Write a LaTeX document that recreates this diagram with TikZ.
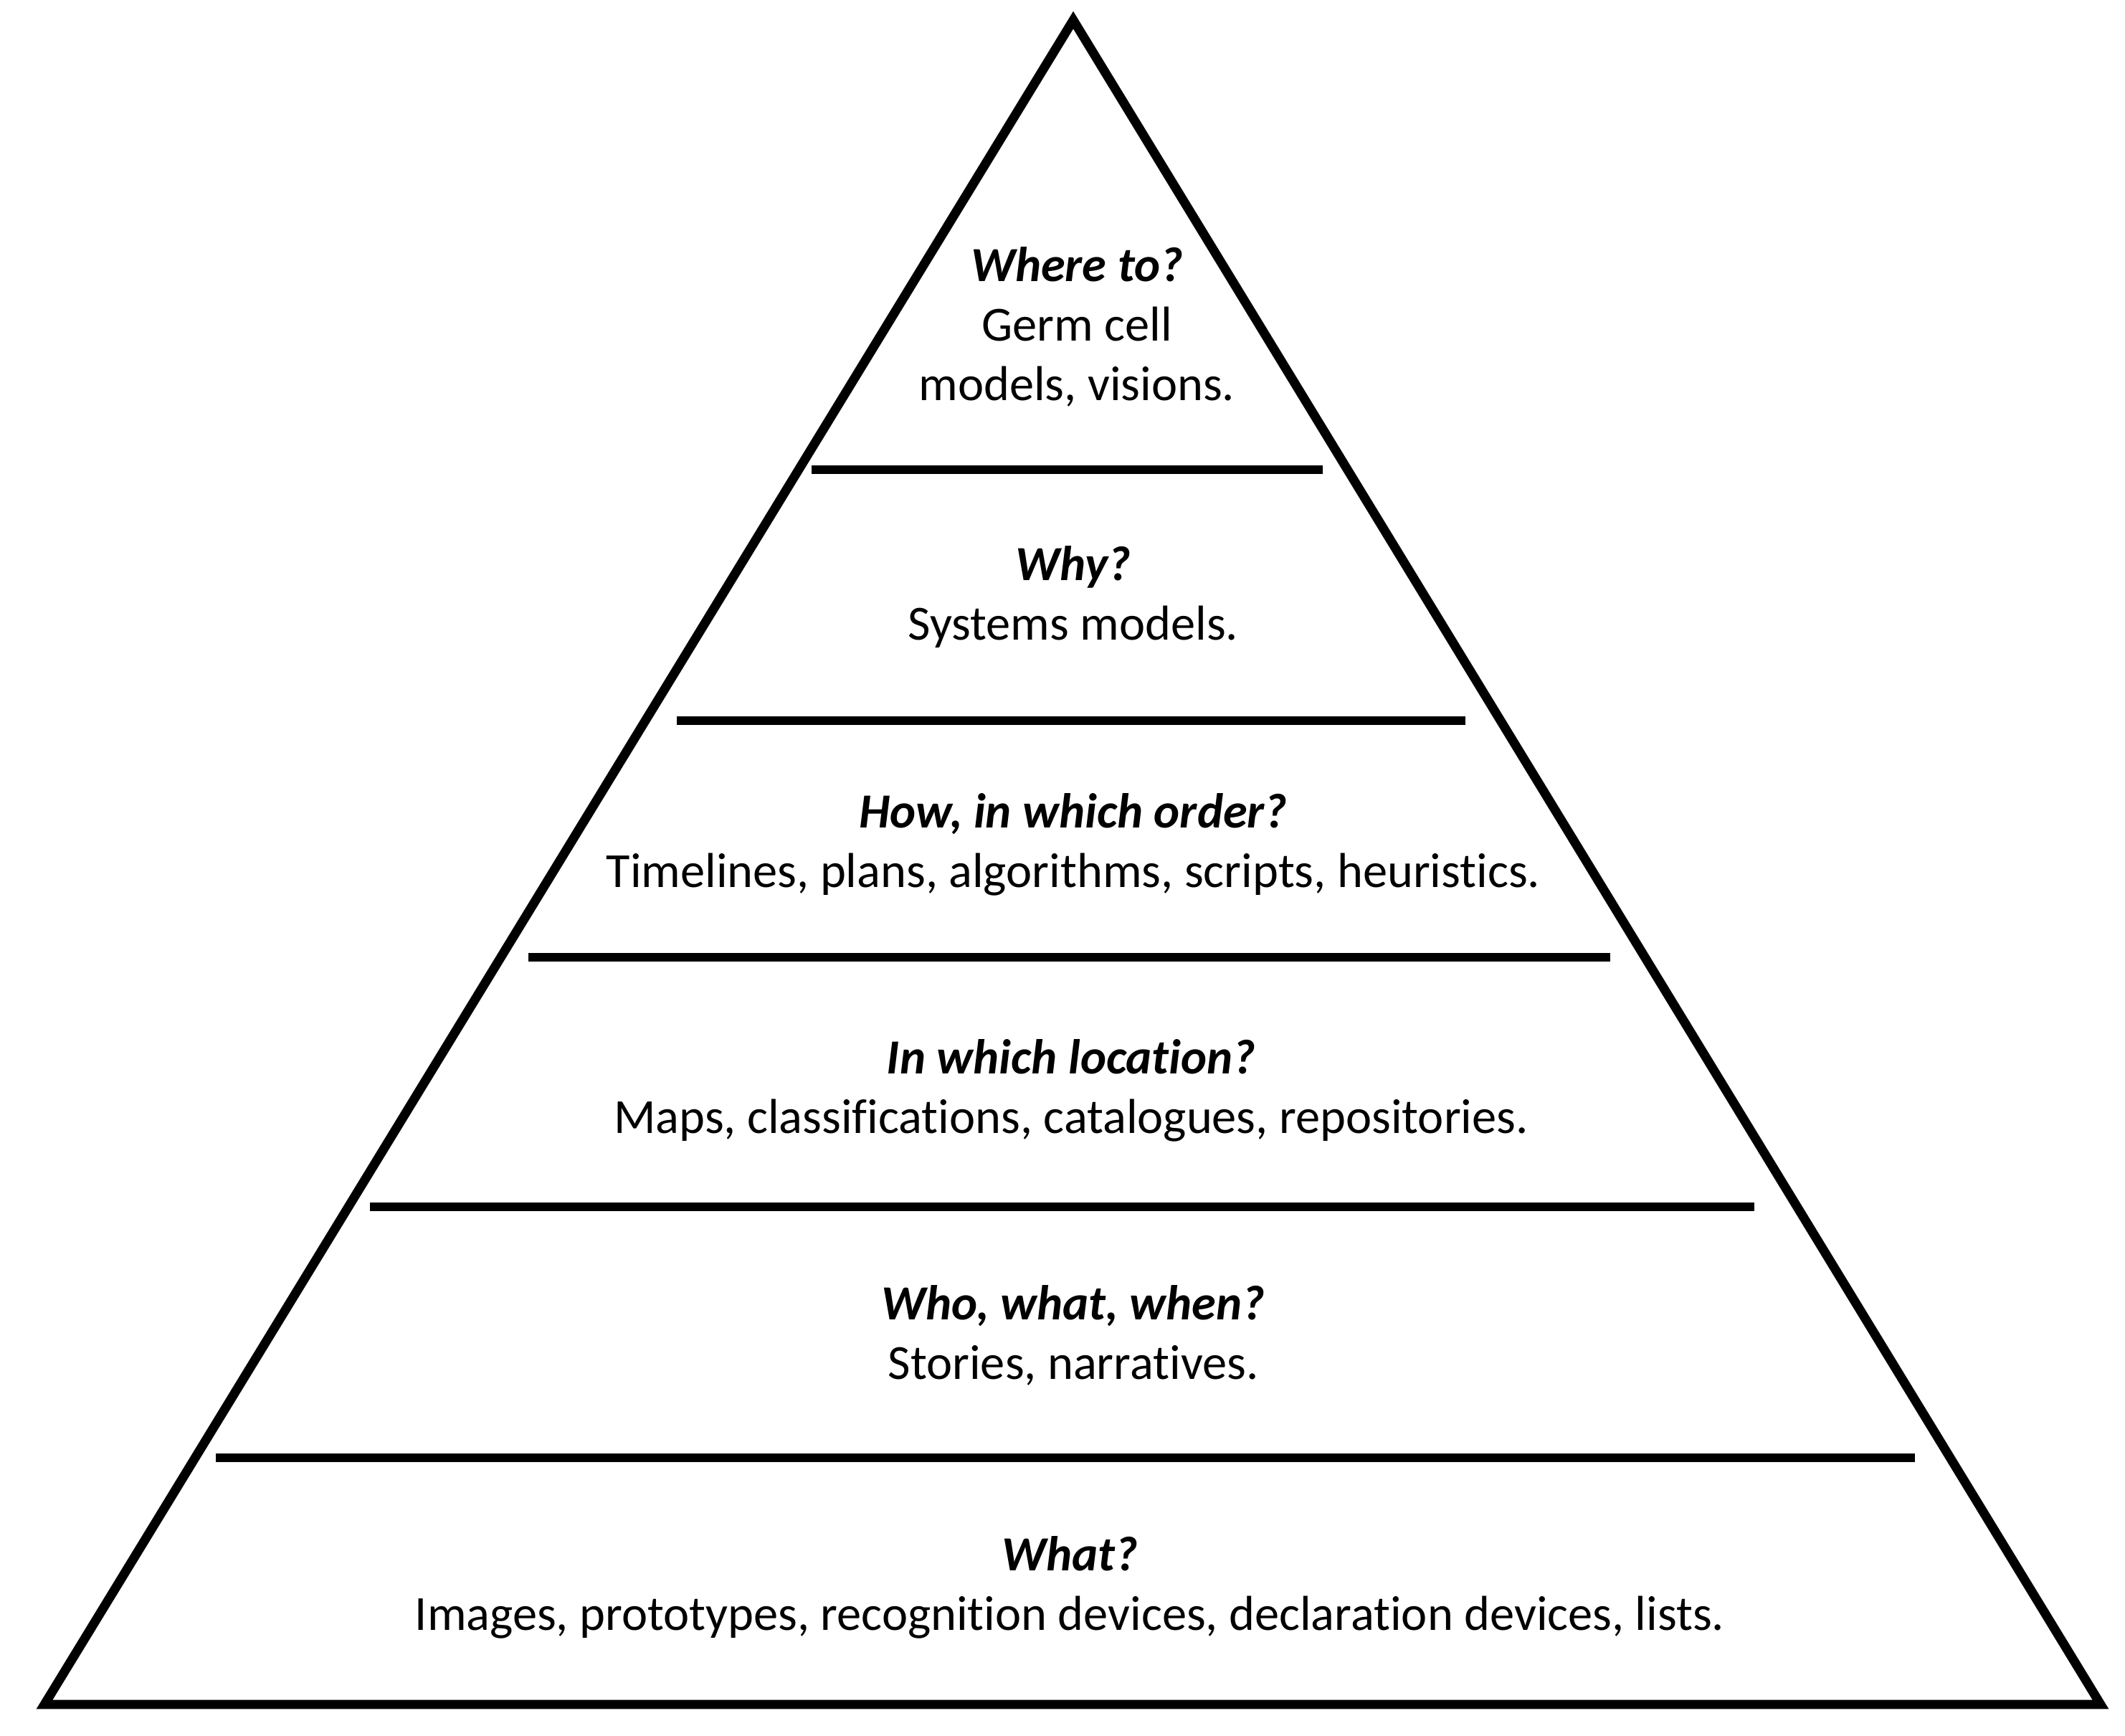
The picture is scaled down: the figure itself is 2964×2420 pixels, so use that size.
\documentclass[tikz,border=0pt]{standalone}
\usepackage{fontspec}
\setmainfont{Carlito}[Ligatures={NoCommon}]
\begin{document}
\begin{tikzpicture}[x=0.25pt,y=-0.25pt,
  edge/.style={line width=3.2pt, line join=miter},
  divider/.style={line width=3pt},
  layertext/.style={align=center, inner sep=0pt, font=\fontsize{17.1}{20.75}\selectfont}]
\useasboundingbox (0,0) rectangle (2964,2420);
% triangle
\coordinate (apex) at (1497,28);
\coordinate (bl) at (62,2377);
\coordinate (br) at (2930,2377);
\draw[edge] (apex) -- (bl) -- (br) -- cycle;
% dividers
\coordinate (d1l) at (1132,655);  \coordinate (d1r) at (1845,655);
\coordinate (d2l) at (944,1005);  \coordinate (d2r) at (2044,1005);
\coordinate (d3l) at (737,1335);  \coordinate (d3r) at (2246,1335);
\coordinate (d4l) at (516,1683);  \coordinate (d4r) at (2447,1683);
\coordinate (d5l) at (301,2033);  \coordinate (d5r) at (2671,2033);
\draw[divider] (d1l) -- (d1r);
\draw[divider] (d2l) -- (d2r);
\draw[divider] (d3l) -- (d3r);
\draw[divider] (d4l) -- (d4r);
\draw[divider] (d5l) -- (d5r);
% texts
\node[layertext] (t1) at (1502,456) {\textbf{\textit{Where to?}}\\Germ cell\\models, visions.};
\node[layertext] (t2) at (1497,833) {\textbf{\textit{Why?}}\\Systems models.};
\node[layertext] (t3) at (1497,1178) {\textbf{\textit{How, in which order?}}\\Timelines, plans, algorithms, scripts, heuristics.};
\node[layertext] (t4) at (1494,1521) {\textbf{\textit{In which location?}}\\Maps, classifications, catalogues, repositories.};
\node[layertext] (t5) at (1497,1862) {\textbf{\textit{Who, what, when?}}\\Stories, narratives.};
\node[layertext] (t6) at (1492,2214) {\textbf{\textit{What?}}\\Images, prototypes, recognition devices, declaration devices, lists.};
\end{tikzpicture}
\end{document}
